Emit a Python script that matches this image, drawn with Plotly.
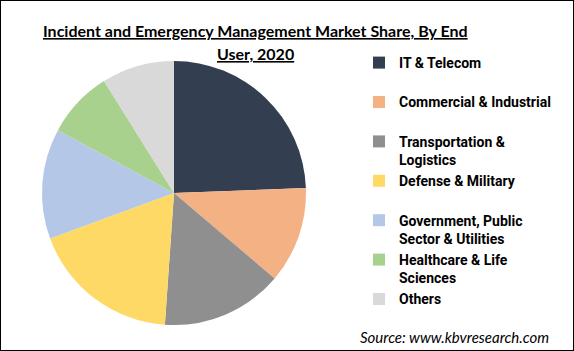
import plotly.graph_objects as go

labels = ["IT & Telecom", "Commercial & Industrial", "Transportation &<br>Logistics",
          "Defense & Military", "Government, Public<br>Sector & Utilities",
          "Healthcare & Life<br>Sciences", "Others"]
shares = [24.4, 11.8, 14.9, 18.3, 13.5, 8.2, 8.9]
colors = ["#333f50", "#f4b183", "#8f8f8f", "#ffd966", "#b4c7e7", "#a9d18e", "#d9d9d9"]
title_lines = ["Incident and Emergency Management Market Share, By End", "User, 2020"]
source = "Source: www.kbvresearch.com"

# pad single-line labels so every legend item occupies two lines (even spacing)
legend_labels = [l if "<br>" in l else l + "<br> " for l in labels]

W, H = 574, 351
cx, cy, r = 174, 193, 132

fig = go.Figure(go.Pie(
    labels=legend_labels, values=shares, sort=False, direction="clockwise",
    rotation=0, textinfo="none", hoverinfo="label+percent",
    marker=dict(colors=colors, line=dict(width=0)),
    domain=dict(x=[(cx - r) / W, (cx + r) / W], y=[(H - cy - r) / H, (H - cy + r) / H]),
))

annotations = []
for i, (t, yc) in enumerate(zip(title_lines, [31, 53])):
    annotations.append(dict(text=f"<b><u>{t}</u></b>", x=255 / W, xanchor="center",
                            y=1 - yc / H, yanchor="middle", xref="paper", yref="paper",
                            showarrow=False, font=dict(size=16, family="Lato", color="black")))
annotations.append(dict(text=f"<i>{source}</i>", x=551 / W, xanchor="right",
                        y=1 - 337 / H, yanchor="middle", xref="paper", yref="paper",
                        showarrow=False, font=dict(size=15, family="Lato", color="black")))

fig.update_layout(
    width=W, height=H, margin=dict(l=0, r=0, t=0, b=0),
    paper_bgcolor="white", plot_bgcolor="white",
    font=dict(family="Lato", color="black"),
    legend=dict(x=359 / W, xanchor="left", y=1 - 47 / H, yanchor="top",
                font=dict(size=14, family="Roboto", color="black", weight="bold"),
                valign="top", itemwidth=30, tracegroupgap=0, bgcolor="rgba(0,0,0,0)"),
    showlegend=True,
    annotations=annotations,
    shapes=[dict(type="rect", xref="paper", yref="paper", x0=0, x1=1, y0=0, y1=1,
                 line=dict(color="black", width=2))],
)

fig.write_html("out.html")
